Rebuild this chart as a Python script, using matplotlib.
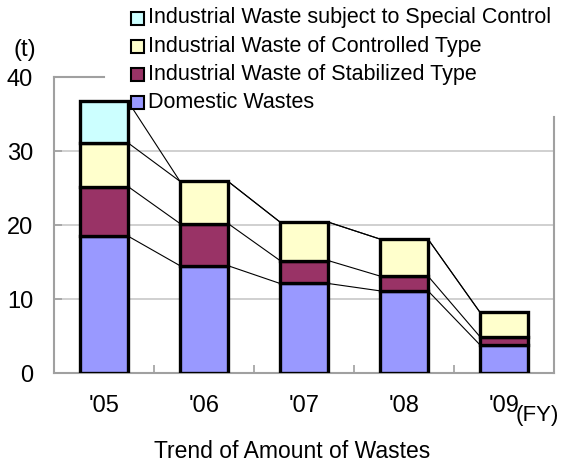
import matplotlib
matplotlib.use("Agg")
import matplotlib.pyplot as plt
from matplotlib.patches import Rectangle
import numpy as np

plt.rcParams['font.family'] = ['Liberation Sans', 'DejaVu Sans']

years = ["'05", "'06", "'07", "'08", "'09"]
series_names = ["Domestic Wastes",
                "Industrial Waste of Stabilized Type",
                "Industrial Waste of Controlled Type",
                "Industrial Waste subject to Special Control"]
domestic = [18.5, 14.5, 12.1, 11.1, 3.8]
stabilized = [6.7, 5.7, 3.1, 2.0, 1.1]
controlled = [5.9, 5.7, 5.2, 5.0, 3.3]
special = [5.6, 0.0, 0.0, 0.0, 0.0]
colors = ["#9999ff", "#993366", "#ffffcc", "#ccffff"]

W, H = 565, 462
fig = plt.figure(figsize=(W / 100, H / 100), dpi=100)
ax = fig.add_axes([54 / W, (H - 373) / H, 500 / W, 296 / H])

x = np.arange(len(years))
bw = 0.48
bottom = np.zeros(len(years))
tops = []
for vals, c in zip([domestic, stabilized, controlled, special], colors):
    v = np.array(vals)
    mask = v > 0
    ax.bar(x[mask], v[mask], bw, bottom=bottom[mask], color=c,
           edgecolor='black', linewidth=2.4, zorder=3)
    bottom = bottom + v
    tops.append(bottom.copy())

# connector lines between cumulative tops
for t in tops:
    for i in range(len(years) - 1):
        ax.plot([x[i] + bw / 2, x[i + 1] - bw / 2], [t[i], t[i + 1]],
                color='black', linewidth=0.8, zorder=2)

ax.set_xlim(-0.5, 4.5)
ax.set_ylim(0, 40)
ax.set_yticks([0, 10, 20, 30, 40])
ax.set_yticklabels(['0', '10', '20', '30', '40'], fontsize=17)
ax.set_xticks(x)
ax.set_xticklabels(years, fontsize=17)
ax.tick_params(axis='x', length=0, pad=16)
ax.tick_params(axis='y', direction='in', length=6, color='#a0a0a0', width=1.2, pad=15)
ax.set_xticks(np.arange(0.5, 4.5, 1), minor=True)
ax.tick_params(axis='x', which='minor', direction='in', length=6, color='#a0a0a0', width=1.2)
for yv in [10, 20, 30]:
    ax.axhline(yv, color='#c8c8c8', linewidth=1.2, zorder=1)
for name, s in ax.spines.items():
    s.set_color('#a0a0a0')
    s.set_linewidth(1.5)
ax.spines['top'].set_visible(False)
ax.spines['right'].set_visible(False)
# partial frame (rest hidden behind the legend area)
ax.plot([-0.5, 0.0], [40, 40], color='#a0a0a0', linewidth=1.5, clip_on=False, zorder=1)
ax.plot([4.5, 4.5], [0, 34.6], color='#a0a0a0', linewidth=1.5, clip_on=False, zorder=1)

# legend drawn manually
leg_items = list(zip(series_names, colors))[::-1]
for k, (name, c) in enumerate(leg_items):
    yc = 18 + k * 28.3
    fig.patches.append(Rectangle((131 / W, 1 - (yc + 6.5) / H), 13 / W, 13 / H,
                                 transform=fig.transFigure, facecolor=c,
                                 edgecolor='black', linewidth=1.5, zorder=5))
    fig.text(148 / W, 1 - yc / H, name, fontsize=15.5, ha='left', va='center')

fig.text(25 / W, 1 - 50 / H, "(t)", fontsize=17, ha='center', va='center')
fig.text(516 / W, 1 - 415 / H, "(FY)", fontsize=16, ha='left', va='center')
fig.text(292 / W, 1 - 452 / H, "Trend of Amount of Wastes", fontsize=16.5,
         ha='center', va='center')

fig.savefig("out.png", dpi=100)
